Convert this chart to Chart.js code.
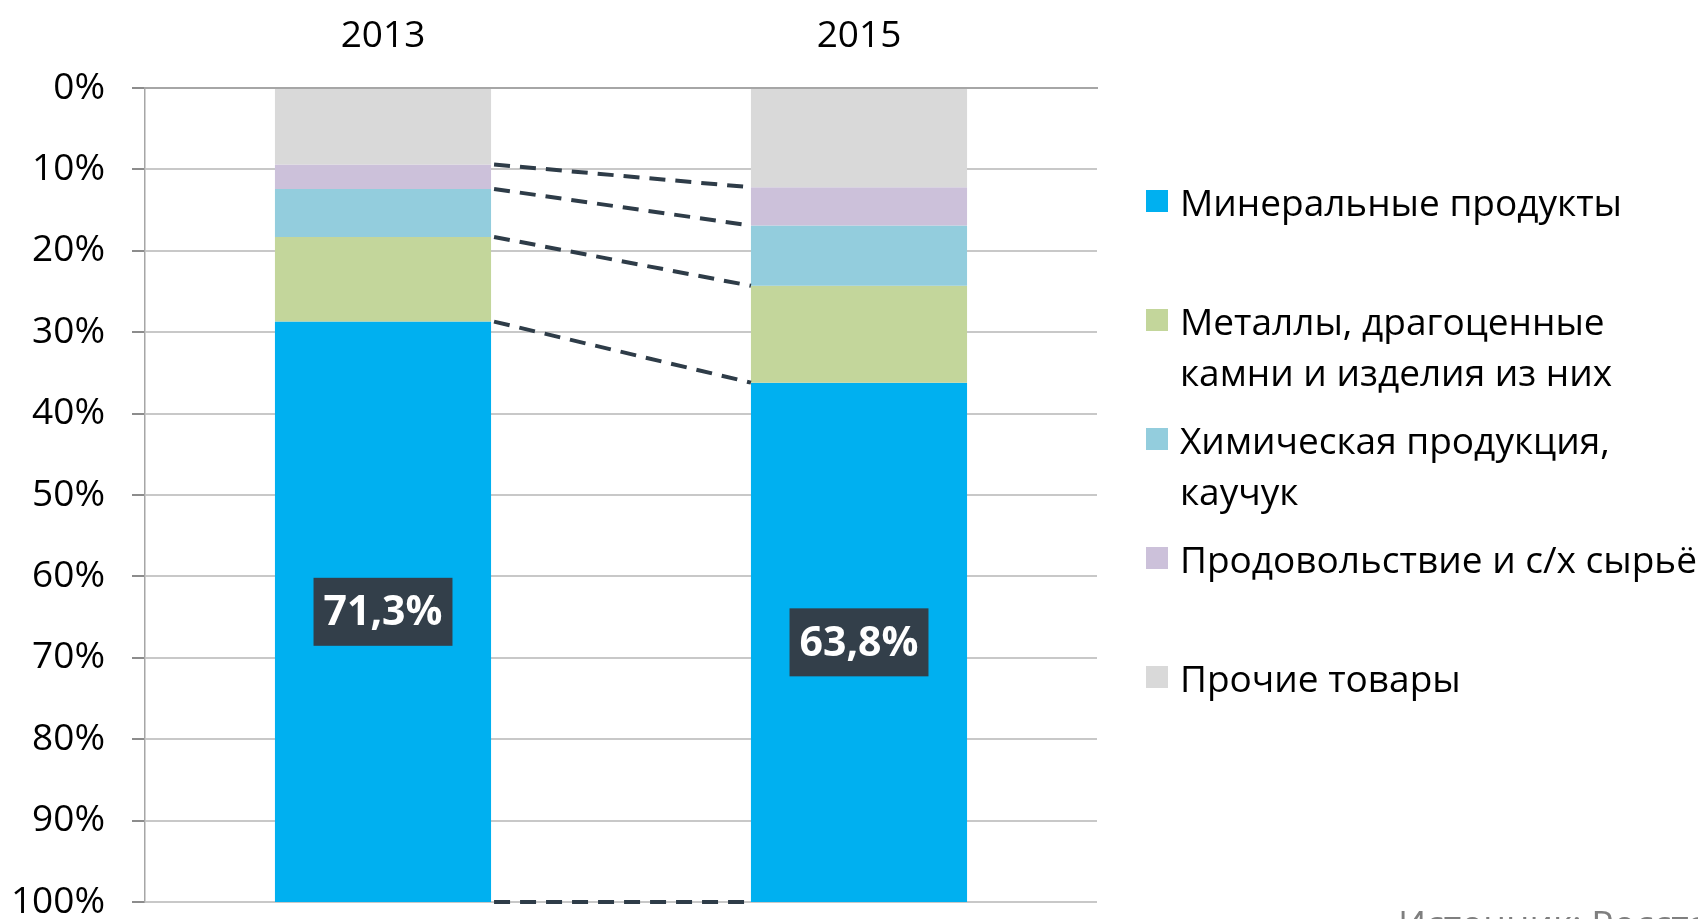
<!DOCTYPE html>
<html lang="ru">
<head>
<meta charset="utf-8">
<script src="https://cdn.jsdelivr.net/npm/chart.js@4.4.0/dist/chart.umd.min.js"></script>
<style>
    body { margin: 0; background: #fff; overflow: hidden; }
    #wrap { position: relative; width: 1698px; height: 919px; overflow: hidden; font-family: 'Open Sans', sans-serif; }
    #grafico { position: absolute; left: 0; top: 0; }
    #legenda { position: absolute; left: 1146px; top: 176px; }
    .item { position: relative; height: 119px; }
    .quadrado { position: absolute; left: 0; top: 14px; width: 22px; height: 22px; }
    .texto { position: absolute; left: 34px; top: 0; font-size: 37px; line-height: 51px; color: #000; white-space: nowrap; }
    #fonte { position: absolute; left: 1398px; top: 904px; font-size: 37px; line-height: 37px; color: #7f7f7f; white-space: nowrap; }
</style>
</head>
<body>
<div id="wrap">
    <canvas id="grafico" width="1698" height="919"></canvas>
    <div id="legenda"></div>
    <div id="fonte">Источник: Росстат</div>
</div>
<script>
// dados (de cima para baixo na coluna)
const anos = ['2013', '2015'];
const prochie = [9.4, 12.2];
const prodovolstvie = [3.0, 4.7];
const khimiya = [5.9, 7.4];
const metally = [10.4, 11.9];
const mineralnye = [71.3, 63.8];
const ticksY = ['0%', '10%', '20%', '30%', '40%', '50%', '60%', '70%', '80%', '90%', '100%'];

const series = [
    { nome: ['Прочие товары'], dados: prochie, cor: '#D9D9D9' },
    { nome: ['Продовольствие и с/х сырьё'], dados: prodovolstvie, cor: '#CCC1DA' },
    { nome: ['Химическая продукция,', 'каучук'], dados: khimiya, cor: '#93CDDD' },
    { nome: ['Металлы, драгоценные', 'камни и изделия из них'], dados: metally, cor: '#C3D69B' },
    { nome: ['Минеральные продукты'], dados: mineralnye, cor: '#00B0F0' }
];

Chart.defaults.font.family = "'Open Sans', sans-serif";
Chart.defaults.color = '#000';

// linhas tracejadas entre as colunas + rótulo do segmento azul
const pluginConectores = {
    id: 'conectores',
    afterDatasetsDraw(chart) {
        const ctx = chart.ctx;
        const escalaY = chart.scales.y;
        const meta = chart.getDatasetMeta(0);
        const b0 = meta.data[0], b1 = meta.data[1];
        const x0 = b0.x + b0.width / 2;
        const x1 = b1.x - b1.width / 2;

        let acum0 = 0, acum1 = 0;
        ctx.save();
        ctx.strokeStyle = '#2E3C48';
        ctx.lineWidth = 4;
        ctx.setLineDash([16, 10]);
        series.forEach(s => {
            acum0 += s.dados[0];
            acum1 += s.dados[1];
            const y0 = escalaY.getPixelForValue(acum0);
            const y1 = escalaY.getPixelForValue(acum1);
            ctx.beginPath();
            ctx.moveTo(x0 + 3, y0);
            ctx.lineTo(x1, y1);
            ctx.stroke();
        });
        ctx.restore();

        // rótulos
        const metaMin = chart.getDatasetMeta(series.length - 1);
        ctx.save();
        ctx.font = "bold 41px 'Open Sans', sans-serif";
        ctx.textAlign = 'center';
        ctx.textBaseline = 'middle';
        metaMin.data.forEach((barra, i) => {
            const texto = mineralnye[i].toFixed(1).replace('.', ',') + '%';
            const cy = (barra.y + barra.base) / 2;
            const larg = ctx.measureText(texto).width + 20;
            ctx.fillStyle = '#333F4A';
            ctx.fillRect(barra.x - larg / 2, cy - 34, larg, 68);
            ctx.fillStyle = '#FFFFFF';
            ctx.fillText(texto, barra.x, cy + 2);
        });
        ctx.restore();
    }
};

function construirLegenda() {
    const legenda = document.getElementById('legenda');
    series.slice().reverse().forEach(s => {
        const item = document.createElement('div');
        item.className = 'item';
        const q = document.createElement('div');
        q.className = 'quadrado';
        q.style.background = s.cor;
        const t = document.createElement('div');
        t.className = 'texto';
        t.innerHTML = s.nome.join('<br>');
        item.appendChild(q);
        item.appendChild(t);
        legenda.appendChild(item);
    });
}

function construirGrafico() {
    const ctx = document.getElementById('grafico').getContext('2d');
    new Chart(ctx, {
        type: 'bar',
        data: {
            labels: anos,
            datasets: series.map(s => ({
                label: s.nome.join(' '),
                data: s.dados,
                backgroundColor: s.cor,
                borderWidth: 0,
                categoryPercentage: 1,
                barPercentage: 0.454
            }))
        },
        options: {
            responsive: false,
            animation: false,
            layout: { padding: { left: 0, top: 0, right: 601, bottom: 17 } },
            plugins: {
                legend: { display: false },
                tooltip: { enabled: false }
            },
            scales: {
                x: {
                    stacked: true,
                    position: 'top',
                    grid: { display: false, drawTicks: false },
                    border: { display: true, color: '#A6A6A6', width: 2 },
                    ticks: { font: { size: 37 }, color: '#000', padding: 29 },
                    afterFit: (escala) => { escala.height = 88; }
                },
                y: {
                    stacked: true,
                    reverse: true,
                    min: 0,
                    max: 100,
                    grid: { color: '#C8C8C8', lineWidth: 2, tickColor: '#8C8C8C', tickLength: 13 },
                    border: { display: true, color: '#A6A6A6', width: 1.5 },
                    ticks: {
                        stepSize: 10,
                        font: { size: 37 },
                        color: '#000',
                        padding: 27,
                        callback: (v) => ticksY[Math.round(v / 10)]
                    },
                    afterFit: (escala) => {
                        escala.width = 145;
                        escala.paddingTop = 0;
                        escala.paddingBottom = 0;
                    }
                }
            }
        },
        plugins: [pluginConectores]
    });
}

construirLegenda();
construirGrafico();
</script>
</body>
</html>
